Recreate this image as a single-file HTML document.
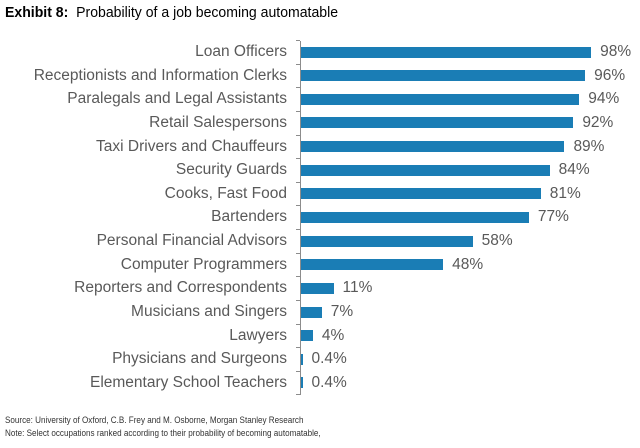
<!DOCTYPE html>
<html><head><style>
body{margin:0;width:640px;height:448px;background:#fff;font-family:"Liberation Sans",sans-serif;position:relative;overflow:hidden}
.t{position:absolute;left:5px;top:5px;font-size:14.5px;color:#000;transform:scaleX(0.97);transform-origin:left;white-space:nowrap}
.l{position:absolute;right:353px;font-size:15.5px;color:#595959;white-space:nowrap;line-height:16px}
.b{position:absolute;left:301px;height:11px;background:#1a7db5}
.v{position:absolute;font-size:15.5px;color:#595959;line-height:16px}
.ax{position:absolute;left:300px;top:41px;width:1px;height:354px;background:#8c8c8c}
.tk{position:absolute;left:296px;width:4px;height:1px;background:#8c8c8c}
.s{position:absolute;left:5px;font-size:9px;color:#333;transform:scaleX(0.9);transform-origin:left;white-space:nowrap}
</style></head><body>
<div class="t"><b>Exhibit 8:</b>&nbsp; Probability of a job becoming automatable</div>
<div class="ax"></div>
<div id="c"></div>
<div class="s" style="top:415px">Source: University of Oxford, C.B. Frey and M. Osborne, Morgan Stanley Research</div>
<div class="s" style="top:428px">Note: Select occupations ranked according to their probability of becoming automatable,</div>
<script>
var d=[["Loan Officers",98,"98%"],["Receptionists and Information Clerks",96,"96%"],["Paralegals and Legal Assistants",94,"94%"],["Retail Salespersons",92,"92%"],["Taxi Drivers and Chauffeurs",89,"89%"],["Security Guards",84,"84%"],["Cooks, Fast Food",81,"81%"],["Bartenders",77,"77%"],["Personal Financial Advisors",58,"58%"],["Computer Programmers",48,"48%"],["Reporters and Correspondents",11,"11%"],["Musicians and Singers",7,"7%"],["Lawyers",4,"4%"],["Physicians and Surgeons",0.4,"0.4%"],["Elementary School Teachers",0.4,"0.4%"]];
var h="";
for(var i=0;i<d.length;i++){var y=52+i*23.64;var w=Math.max(1.5,d[i][1]*2.96);
h+='<div class="l" style="top:'+(y-8)+'px">'+d[i][0]+'</div>';
h+='<div class="b" style="top:'+(y-5.5)+'px;width:'+w+'px"></div>';
h+='<div class="v" style="top:'+(y-8)+'px;left:'+(301+w+9)+'px">'+d[i][2]+'</div>';
h+='<div class="tk" style="top:'+(y-12)+'px"></div>';}
h+='<div class="tk" style="top:394px"></div>';
document.getElementById("c").innerHTML=h;
</script>
</body></html>
